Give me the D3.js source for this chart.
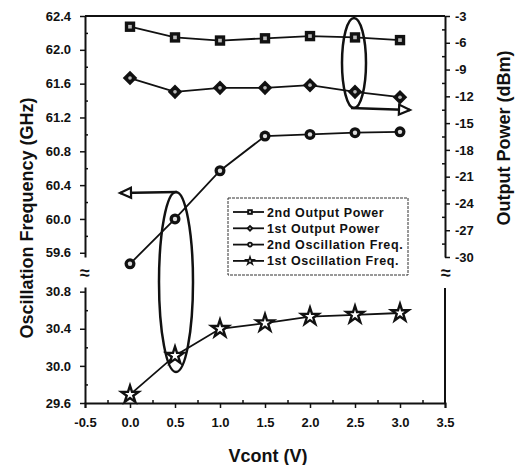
<!DOCTYPE html>
<html>
<head>
<meta charset="utf-8">
<script src="https://cdn.jsdelivr.net/npm/d3@7"></script>
<style>
  body { margin: 0; background: #fff; }
  svg text { font-family: "Liberation Sans", Arial, sans-serif; font-weight: bold; fill: #111; }
</style>
</head>
<body>
<div id="chart"></div>
<script>
// data
var vcont    = [0.0, 0.5, 1.0, 1.5, 2.0, 2.5, 3.0];
var pow2nd   = [-4.2, -5.4, -5.75, -5.5, -5.25, -5.4, -5.7];      // dBm, right axis
var pow1st   = [-9.95, -11.5, -11.05, -11.05, -10.75, -11.5, -12.1]; // dBm, right axis
var freq2nd  = [59.47, 60.0, 60.57, 60.98, 61.0, 61.02, 61.03];   // GHz, upper left axis
var freq1st  = [29.69, 30.11, 30.4, 30.46, 30.53, 30.55, 30.57];  // GHz, lower left axis

var xTicks   = [-0.5, 0.0, 0.5, 1.0, 1.5, 2.0, 2.5, 3.0, 3.5];
var upTicks  = [59.6, 60.0, 60.4, 60.8, 61.2, 61.6, 62.0, 62.4];
var loTicks  = [29.6, 30.0, 30.4, 30.8];
var rTicks   = [-30, -27, -24, -21, -18, -15, -12, -9, -6, -3];
var legendLabels = ["2nd Output Power", "1st Output Power", "2nd Oscillation Freq.", "1st Oscillation Freq."];

var W = 516, H = 465;
var svg = d3.select("#chart").append("svg").attr("width", W).attr("height", H);

var ink = "#111";
var x   = d3.scaleLinear().domain([-0.5, 3.5]).range([85, 445]);
var yUp = d3.scaleLinear().domain([59.55, 62.4]).range([257, 16]);
var yLo = d3.scaleLinear().domain([29.6, 30.85]).range([403, 287]);
var yR  = d3.scaleLinear().domain([-30, -3]).range([257, 16]);

// plain hyphen instead of unicode minus, like the original
var fmt1 = function(d) { return d3.format(".1f")(d).replace("\u2212", "-"); };
var fmt0 = function(d) { return String(d); };

function styleAxis(g) {
    g.select(".domain").attr("stroke", ink).attr("stroke-width", 2);
    g.selectAll(".tick line").attr("stroke", ink).attr("stroke-width", 1.5);
    g.selectAll(".tick text").style("font-size", "13px").attr("fill", ink);
}
function minors(ticks) {
    var m = [];
    for (var i = 0; i < ticks.length - 1; i++) m.push((ticks[i] + ticks[i + 1]) / 2);
    return m;
}

// frame: top line
svg.append("line").attr("x1", x(-0.5)).attr("x2", x(3.5)).attr("y1", 16).attr("y2", 16)
    .attr("stroke", ink).attr("stroke-width", 2);

// bottom axis
var gx = svg.append("g").attr("transform", "translate(0,403)")
    .call(d3.axisBottom(x).tickValues(xTicks).tickSize(5).tickPadding(10).tickFormat(fmt1));
styleAxis(gx);
svg.append("g").attr("transform", "translate(0,403)")
    .call(d3.axisBottom(x).tickValues(minors(xTicks)).tickSize(-3).tickFormat(""))
    .call(styleAxis).select(".domain").remove();

// left upper axis
var gl1 = svg.append("g").attr("transform", "translate(85,0)")
    .call(d3.axisLeft(yUp).tickValues(upTicks).tickSize(5).tickPadding(9).tickSizeOuter(0).tickFormat(fmt1));
styleAxis(gl1);
svg.append("g").attr("transform", "translate(85,0)")
    .call(d3.axisLeft(yUp).tickValues(minors(upTicks)).tickSize(-3).tickFormat(""))
    .call(styleAxis).select(".domain").remove();

// left lower axis
var gl2 = svg.append("g").attr("transform", "translate(85,0)")
    .call(d3.axisLeft(yLo).tickValues(loTicks).tickSize(5).tickPadding(9).tickSizeOuter(0).tickFormat(fmt1));
styleAxis(gl2);
svg.append("g").attr("transform", "translate(85,0)")
    .call(d3.axisLeft(yLo).tickValues(minors(loTicks)).tickSize(-3).tickFormat(""))
    .call(styleAxis).select(".domain").remove();

// right axis, upper part (power)
var gr = svg.append("g").attr("transform", "translate(445,0)")
    .call(d3.axisRight(yR).tickValues(rTicks).tickSize(5).tickPadding(5).tickSizeOuter(0).tickFormat(fmt0));
styleAxis(gr);
svg.append("g").attr("transform", "translate(445,0)")
    .call(d3.axisRight(yR).tickValues(minors(rTicks)).tickSize(-3).tickFormat(""))
    .call(styleAxis).select(".domain").remove();
// right axis, lower part (no labels)
svg.append("line").attr("x1", 445).attr("x2", 445).attr("y1", 288).attr("y2", 403)
    .attr("stroke", ink).attr("stroke-width", 2);

// axis break marks
[85, 446].forEach(function(bx) {
    svg.append("text").attr("x", bx).attr("y", 279).attr("text-anchor", "middle")
        .style("font-size", "18px").text("\u2248");
});

// axis titles
svg.append("text").attr("transform", "translate(33,218) rotate(-90)").attr("text-anchor", "middle")
    .style("font-size", "18px").text("Oscillation Frequency (GHz)");
svg.append("text").attr("transform", "translate(510,138) rotate(-90)").attr("text-anchor", "middle")
    .style("font-size", "18px").text("Output Power (dBm)");
svg.append("text").attr("x", 268).attr("y", 462).attr("text-anchor", "middle")
    .style("font-size", "18px").text("Vcont (V)");

// markers
function drawMarker(g, kind, s) {
    if (kind === "square") {
        g.append("rect").attr("x", -s).attr("y", -s).attr("width", 2 * s).attr("height", 2 * s).attr("fill", ink);
        g.append("rect").attr("x", -s * 0.35).attr("y", -s * 0.35).attr("width", s * 0.7).attr("height", s * 0.7).attr("fill", "#bbb");
    } else if (kind === "diamond") {
        var d = s * 1.4;
        g.append("path").attr("d", "M0," + (-d) + "L" + d + ",0L0," + d + "L" + (-d) + ",0Z").attr("fill", ink);
        g.append("circle").attr("r", s * 0.35).attr("fill", "#bbb");
    } else if (kind === "circle") {
        g.append("circle").attr("r", s).attr("fill", ink);
        g.append("circle").attr("r", s * 0.4).attr("fill", "#ddd");
    } else {
        // star: outer radius ~ s
        g.append("path").attr("d", d3.symbol(d3.symbolStar, s * s / 0.89)())
            .attr("fill", "#fff").attr("stroke", ink).attr("stroke-width", s > 5 ? 2.4 : 1.5);
    }
}

var series = [
    { vals: pow2nd,  y: yR,  kind: "square" },
    { vals: pow1st,  y: yR,  kind: "diamond" },
    { vals: freq2nd, y: yUp, kind: "circle" },
    { vals: freq1st, y: yLo, kind: "star" }
];
var markSize = { square: 5.2, diamond: 5.2, circle: 5.5, star: 9 };
var legSize  = { square: 2.8, diamond: 2.6, circle: 2.8, star: 4 };

series.forEach(function(s) {
    var pts = vcont.map(function(v, i) { return [x(v), s.y(s.vals[i])]; });
    svg.append("path").attr("d", d3.line()(pts)).attr("fill", "none")
        .attr("stroke", ink).attr("stroke-width", 1.8);
    pts.forEach(function(p) {
        var g = svg.append("g").attr("transform", "translate(" + p[0] + "," + p[1] + ")");
        drawMarker(g, s.kind, markSize[s.kind]);
    });
});

// legend
var lg = svg.append("g").attr("transform", "translate(228,198)");
lg.append("rect").attr("width", 180).attr("height", 77).attr("fill", "#fff")
    .attr("stroke", "#333").attr("stroke-width", 1).attr("stroke-dasharray", "3,1");
legendLabels.forEach(function(lab, i) {
    var ly = 14 + i * 16.3;
    lg.append("line").attr("x1", 5).attr("x2", 36).attr("y1", ly).attr("y2", ly)
        .attr("stroke", ink).attr("stroke-width", 1.8);
    drawMarker(lg.append("g").attr("transform", "translate(22," + ly + ")"), series[i].kind, legSize[series[i].kind]);
    lg.append("text").attr("x", 39).attr("y", ly + 4.5).style("font-size", "12.5px")
        .style("letter-spacing", "0.6px").text(lab);
});

// open-headed arrow for the annotations
function openArrow(x1, y1, x2, y2) {
    svg.append("line").attr("x1", x1).attr("y1", y1).attr("x2", x2).attr("y2", y2)
        .attr("stroke", ink).attr("stroke-width", 2.5);
    var a = Math.atan2(y2 - y1, x2 - x1), L = 11, w = 5;
    var bx = x2 - L * Math.cos(a), by = y2 - L * Math.sin(a);
    var px = -Math.sin(a) * w, py = Math.cos(a) * w;
    svg.append("path").attr("d", "M" + x2 + "," + y2 + "L" + (bx + px) + "," + (by + py) + "L" + (bx - px) + "," + (by - py) + "Z")
        .attr("fill", "#fff").attr("stroke", ink).attr("stroke-width", 2.2);
}

// ellipse around the 2.5 V power points, arrow to the right axis
svg.append("ellipse").attr("cx", x(2.5) - 1).attr("cy", 63).attr("rx", 12).attr("ry", 45)
    .attr("fill", "none").attr("stroke", ink).attr("stroke-width", 2.5);
openArrow(x(2.5) - 4, 108, x(3.0) + 10, 110);

// ellipse around the 0.5 V frequency points, arrow to the left axis
svg.append("ellipse").attr("cx", x(0.5) + 1).attr("cy", 282).attr("rx", 17).attr("ry", 90)
    .attr("fill", "none").attr("stroke", ink).attr("stroke-width", 2.5);
openArrow(x(0.5) + 2, 192, x(0.0) - 10, 193);
</script>
</body>
</html>
